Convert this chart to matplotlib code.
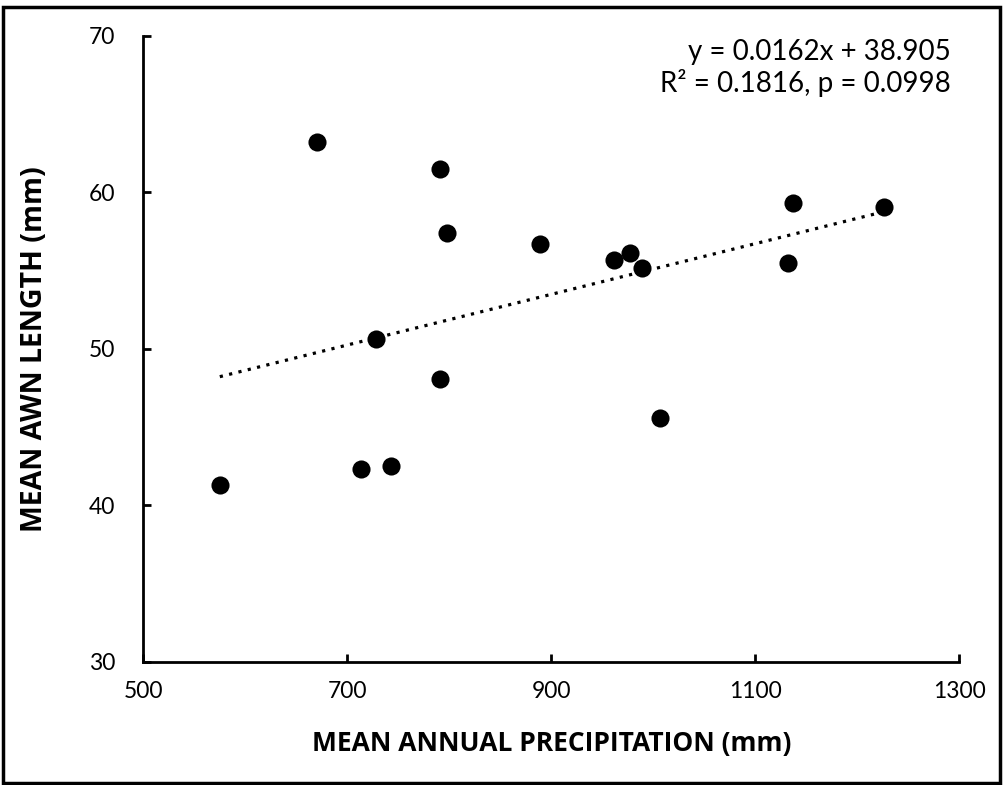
import matplotlib
matplotlib.use("Agg")
import matplotlib.pyplot as plt
from matplotlib.patches import Rectangle
import numpy as np

precip = [575, 670, 791, 798, 889, 728, 791, 713, 743, 961, 977, 989, 1007, 1137, 1132, 1226]
awn = [41.3, 63.2, 61.5, 57.4, 56.7, 50.6, 48.1, 42.3, 42.5, 55.7, 56.1, 55.2, 45.6, 59.3, 55.5, 59.1]
slope, intercept = 0.0162, 38.905
xticks = [500, 700, 900, 1100, 1300]
yticks = [30, 40, 50, 60, 70]

plt.rcParams['font.family'] = ['Lato', 'DejaVu Sans']

fig = plt.figure(figsize=(10.04, 7.85), dpi=100)
ax = fig.add_axes([143.3/1004, 1-661.7/785, (959.3-143.3)/1004, (661.7-36)/785])

ax.scatter(precip, awn, s=170, color='black', zorder=3, linewidths=0)
xs = np.array([min(precip), max(precip)])
ax.plot(xs, slope*xs + intercept, color='black', lw=2.3, linestyle=(0, (1, 2)), zorder=2)

ax.set_xlim(500, 1300)
ax.set_ylim(30, 70)
ax.set_xticks(xticks)
ax.set_yticks(yticks)
ax.tick_params(direction='in', length=6, width=2, labelsize=16.5, pad=14)
ax.tick_params(axis='y', pad=20)
for s in ['top', 'right']:
    ax.spines[s].set_visible(False)
for s in ['left', 'bottom']:
    ax.spines[s].set_linewidth(2)

fam = ['Open Sans', 'DejaVu Sans']
ax.set_xlabel('MEAN ANNUAL PRECIPITATION (mm)', labelpad=20, fontsize=19, fontweight='bold', family=fam)
ax.set_ylabel('MEAN AWN LENGTH (mm)', fontsize=20.5, fontweight='bold', family=fam)
ax.yaxis.set_label_coords(-0.115, 0.5)

ax.text(0.99, 0.995, 'y = 0.0162x + 38.905\nR² = 0.1816, p = 0.0998', transform=ax.transAxes,
        ha='right', va='top', fontsize=20, linespacing=1.15)

fig.patches.append(Rectangle((3/1004, 2/785), 997/1004, 776/785, transform=fig.transFigure,
                             fill=False, edgecolor='black', linewidth=2.5))

fig.savefig('out.png', dpi=100)
